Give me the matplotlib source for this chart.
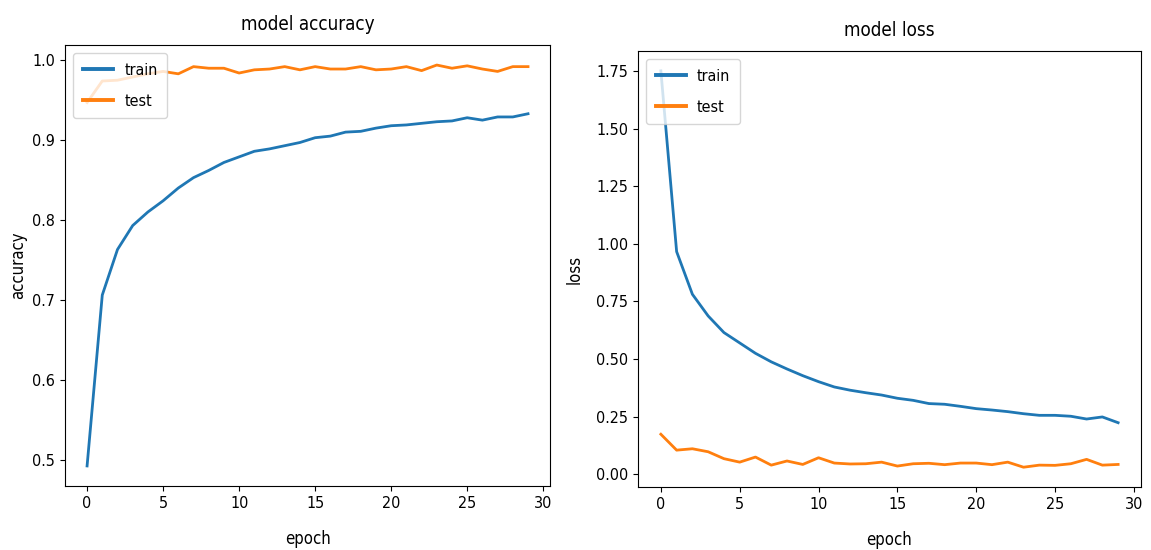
import numpy as np
import matplotlib
matplotlib.use("Agg")
import matplotlib.pyplot as plt

# training history
epochs = list(range(30))
acc_train = [0.492, 0.706, 0.763, 0.793, 0.810, 0.824, 0.840, 0.853, 0.862, 0.872,
             0.879, 0.886, 0.889, 0.893, 0.897, 0.903, 0.905, 0.910, 0.911, 0.915,
             0.918, 0.919, 0.921, 0.923, 0.924, 0.928, 0.925, 0.929, 0.929, 0.933]
acc_test = [0.947, 0.974, 0.975, 0.979, 0.983, 0.986, 0.983, 0.992, 0.990, 0.990,
            0.984, 0.988, 0.989, 0.992, 0.988, 0.992, 0.989, 0.989, 0.992, 0.988,
            0.989, 0.992, 0.987, 0.994, 0.990, 0.993, 0.989, 0.986, 0.992, 0.992]
loss_train = [1.750, 0.966, 0.781, 0.687, 0.615, 0.570, 0.525, 0.488, 0.457, 0.428,
              0.402, 0.379, 0.365, 0.354, 0.344, 0.330, 0.321, 0.307, 0.304, 0.295,
              0.285, 0.279, 0.272, 0.263, 0.256, 0.256, 0.252, 0.240, 0.249, 0.224]
loss_test = [0.174, 0.105, 0.111, 0.098, 0.068, 0.053, 0.075, 0.040, 0.058, 0.043,
             0.072, 0.049, 0.045, 0.046, 0.053, 0.036, 0.046, 0.048, 0.042, 0.049,
             0.049, 0.042, 0.053, 0.031, 0.040, 0.039, 0.046, 0.065, 0.040, 0.043]

plt.rcParams['font.family'] = ['DejaVu Sans']
plt.rcParams['font.stretch'] = 'condensed'
plt.rcParams['xtick.labelsize'] = 11.5
plt.rcParams['ytick.labelsize'] = 11.5

fig = plt.figure(figsize=(11.51, 5.5), dpi=100)
ax1 = fig.add_axes([0.0565, 0.1164, 0.4214, 0.8018])
ax2 = fig.add_axes([0.5543, 0.1145, 0.4370, 0.7927])

def draw(ax, train, test, title, ylabel, ypad):
    ax.plot(epochs, train, lw=2)
    ax.plot(epochs, test, lw=2)
    ax.set_title(title, fontsize=13.5, pad=10.5)
    ax.set_ylabel(ylabel, fontsize=12, labelpad=ypad)
    ax.set_xlabel('epoch', fontsize=12, labelpad=14)
    leg = ax.legend(['train', 'test'], loc='upper left', fontsize=11.5,
                    labelspacing=1.0, borderpad=0.6, handlelength=1.9,
                    handletextpad=0.7)
    for h in leg.get_lines():
        h.set_linewidth(2.8)

draw(ax1, acc_train, acc_test, 'model accuracy', 'accuracy', 4)
draw(ax2, loss_train, loss_test, 'model loss', 'loss', 9)

fig.savefig('out.png', dpi=100)
